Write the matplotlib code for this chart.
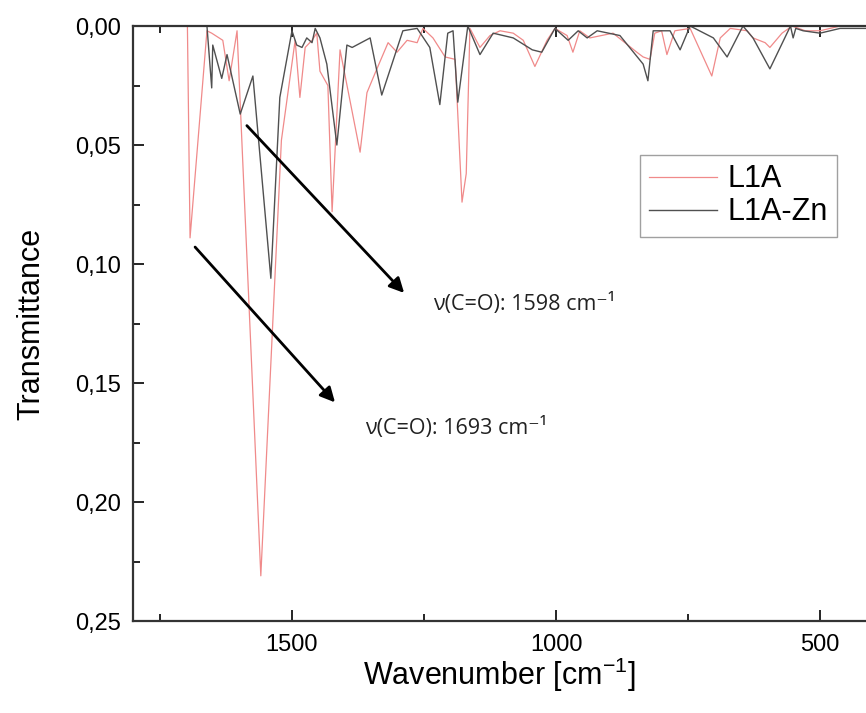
import numpy as np
import matplotlib
matplotlib.use("Agg")
import matplotlib.pyplot as plt
from matplotlib.ticker import MultipleLocator, FuncFormatter

# ----------------------------
# IR spectra data
# ----------------------------
l1a_wn = [1698, 1693, 1661, 1652, 1631, 1619, 1604, 1559, 1520, 1494, 1485, 1475,
          1462, 1453, 1447, 1432, 1424, 1409, 1371, 1358, 1343, 1318, 1301, 1282,
          1263, 1252, 1233, 1210, 1191, 1178, 1170, 1163, 1144, 1125, 1106, 1081,
          1062, 1040, 1017, 1002, 979, 968, 955, 936, 892, 847, 835, 822, 813, 800,
          790, 775, 746, 705, 689, 670, 638, 627, 604, 595, 572, 553, 528, 500, 462, 413]
l1a_t = [0.0, 0.089, 0.002, 0.003, 0.006, 0.023, 0.002, 0.231, 0.048, 0.006, 0.030, 0.009,
         0.006, 0.003, 0.019, 0.025, 0.078, 0.010, 0.053, 0.028, 0.020, 0.007, 0.011, 0.006,
         0.007, 0.001, 0.005, 0.013, 0.014, 0.074, 0.062, 0.001, 0.009, 0.004, 0.002, 0.003,
         0.006, 0.017, 0.006, 0.001, 0.004, 0.011, 0.002, 0.005, 0.003, 0.011, 0.013, 0.014, 0.003, 0.002,
         0.012, 0.002, 0.001, 0.021, 0.005, 0.001, 0.002, 0.005, 0.007, 0.009, 0.003, 0.0, 0.002, 0.002, 0.0, 0.0]

l1a_zn_wn = [1661, 1652, 1650, 1633, 1623, 1598, 1574, 1540, 1523, 1500, 1491, 1481,
             1472, 1462, 1456, 1447, 1434, 1415, 1396, 1386, 1352, 1330, 1290, 1263,
             1239, 1220, 1205, 1195, 1186, 1167, 1144, 1119, 1081, 1045, 1027, 1002,
             977, 958, 941, 922, 879, 835, 826, 816, 784, 765, 746, 702, 676, 646,
             627, 595, 556, 551, 546, 532, 500, 462, 413]
l1a_zn_t = [0.0, 0.026, 0.008, 0.022, 0.012, 0.037, 0.021, 0.106, 0.030, 0.002, 0.008, 0.009,
            0.005, 0.007, 0.001, 0.005, 0.016, 0.050, 0.008, 0.009, 0.005, 0.029, 0.002, 0.001,
            0.009, 0.033, 0.003, 0.002, 0.032, 0.0, 0.012, 0.003, 0.005, 0.010, 0.011, 0.001,
            0.006, 0.002, 0.005, 0.002, 0.004, 0.016, 0.023, 0.002, 0.002, 0.010, 0.0, 0.005, 0.013, 0.0,
            0.005, 0.018, 0.0, 0.005, 0.001, 0.002, 0.003, 0.001, 0.001]

# annotations: (text, arrow start, arrow tip, text position)
notes = [
    ("\u03bd(C=O): 1598 cm\u207b\u00b9", (1589, 0.041), (1284, 0.113), (1233, 0.117)),
    ("\u03bd(C=O): 1693 cm\u207b\u00b9", (1687, 0.092), (1415, 0.159), (1362, 0.169)),
]

# ------------------------------
# Plot
# ------------------------------
plt.rcParams['font.family'] = ['Liberation Sans', 'DejaVu Sans']
fig = plt.figure(figsize=(8.66, 7.13), dpi=100)
ax = fig.add_axes([0.1536, 0.129, 0.8464, 0.8345])

ax.plot(l1a_wn, l1a_t, color='#f08a8a', lw=0.9, label='L1A')
ax.plot(l1a_zn_wn, l1a_zn_t, color='#505050', lw=1.0, label='L1A-Zn')

ax.set_xlim(1801, 413)
ax.set_ylim(0.25, 0.0)

ax.xaxis.set_major_locator(MultipleLocator(500))
ax.xaxis.set_minor_locator(MultipleLocator(250))
ax.yaxis.set_major_locator(MultipleLocator(0.05))
ax.yaxis.set_minor_locator(MultipleLocator(0.025))
ax.yaxis.set_major_formatter(FuncFormatter(lambda v, p: f"{v:.2f}".replace('.', ',')))

ax.tick_params(which='both', direction='in', top=True, right=False, width=1.2, labelsize=17)
ax.tick_params(which='major', length=8, pad=9)
ax.tick_params(which='minor', length=5)
for side in ['left', 'bottom', 'top']:
    ax.spines[side].set_linewidth(1.6)
    ax.spines[side].set_color('#333333')
ax.spines['right'].set_visible(False)

ax.set_xlabel('Wavenumber [cm$^{\\mathregular{-1}}$]', fontsize=22, labelpad=0)
ax.set_ylabel('Transmittance', fontsize=22, labelpad=20)

for txt, start, tip, pos in notes:
    ax.annotate('', xy=tip, xytext=start,
                arrowprops=dict(arrowstyle='-|>', color='black', lw=2.0, mutation_scale=22))
    ax.text(pos[0], pos[1], txt, fontsize=15.5, va='center', ha='left',
            family=['Open Sans', 'DejaVu Sans'], color='#222222')

leg = ax.legend(loc='upper left', bbox_to_anchor=(0.692, 0.783), fontsize=22,
                frameon=True, fancybox=False, handlelength=2.2, borderpad=0.3,
                labelspacing=0.1, handletextpad=0.35, borderaxespad=0)
leg.get_frame().set_edgecolor('#888888')
leg.get_frame().set_linewidth(1.0)

fig.savefig('out.png', dpi=100)
